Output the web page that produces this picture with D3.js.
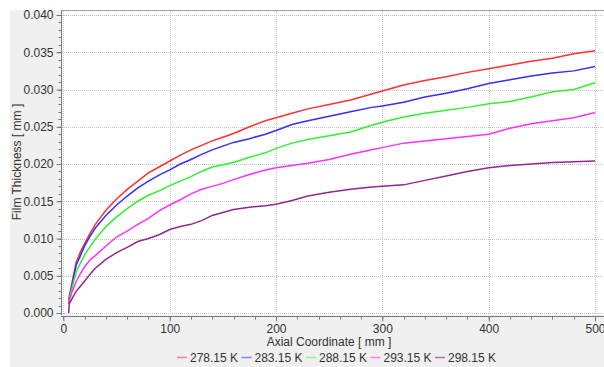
<!DOCTYPE html>
<html><head><meta charset="utf-8">
<script src="https://cdn.jsdelivr.net/npm/d3@7"></script>
<style>
html,body{margin:0;padding:0;background:#fff;}
svg{display:block;font-family:"Liberation Sans",Arial,sans-serif;}
</style></head>
<body>
<svg id="chart" width="604" height="367"></svg>
<script>
const xValues = [5,5.5,8,12,16,20,25,30,40,50,60,70,80,90,100,110,120,130,140,150,160,175,190,200,215,230,250,270,290,300,320,340,360,380,400,420,440,460,480,500];
const seriesNames = ["278.15 K","283.15 K","288.15 K","293.15 K","298.15 K"];
const seriesColors = ["#ff3030","#3030ff","#30f030","#ff30ff","#902890"];
const legendColors = ["#ff8080","#8080ff","#80ff80","#ff80ff","#b070b0"];
const s278 = [0.0016,0.0022,0.0040,0.0068,0.0082,0.0093,0.0107,0.0119,0.0138,0.0153,0.0166,0.0177,0.0188,0.0196,0.0204,0.0212,0.0219,0.0225,0.0231,0.0236,0.0241,0.0250,0.0258,0.0262,0.0268,0.0274,0.0280,0.0286,0.0294,0.0298,0.0306,0.0312,0.0317,0.0323,0.0328,0.0333,0.0338,0.0342,0.0348,0.0352];
const s283 = [0.0015,0.0020,0.0036,0.0064,0.0077,0.0090,0.0103,0.0114,0.0131,0.0145,0.0157,0.0168,0.0177,0.0185,0.0192,0.0200,0.0206,0.0213,0.0219,0.0224,0.0229,0.0234,0.0240,0.0245,0.0253,0.0258,0.0264,0.0270,0.0276,0.0278,0.0283,0.0290,0.0295,0.0301,0.0308,0.0313,0.0318,0.0322,0.0325,0.0331];
const s288 = [0.0014,0.0018,0.0033,0.0055,0.0067,0.0078,0.0089,0.0099,0.0116,0.0129,0.0140,0.0150,0.0158,0.0164,0.0171,0.0177,0.0183,0.0190,0.0196,0.0199,0.0202,0.0209,0.0215,0.0221,0.0228,0.0233,0.0238,0.0243,0.0252,0.0256,0.0263,0.0268,0.0272,0.0276,0.0281,0.0284,0.0290,0.0297,0.0300,0.0309];
const s293 = [0.0012,0.0016,0.0028,0.0042,0.0053,0.0062,0.0071,0.0077,0.0090,0.0102,0.0110,0.0119,0.0127,0.0137,0.0145,0.0152,0.0160,0.0166,0.0170,0.0174,0.0179,0.0186,0.0192,0.0195,0.0198,0.0201,0.0206,0.0213,0.0219,0.0222,0.0228,0.0231,0.0234,0.0237,0.0240,0.0248,0.0254,0.0258,0.0262,0.0269];
const s298 = [0.0000,0.0012,0.0019,0.0029,0.0036,0.0043,0.0052,0.0060,0.0072,0.0081,0.0088,0.0096,0.0100,0.0105,0.0112,0.0116,0.0119,0.0124,0.0131,0.0135,0.0139,0.0142,0.0144,0.0146,0.0151,0.0157,0.0162,0.0166,0.0169,0.0170,0.0172,0.0178,0.0184,0.0190,0.0195,0.0198,0.0200,0.0202,0.0203,0.0204];
const seriesValues = [s278,s283,s288,s293,s298];
const xTicks = [0,100,200,300,400,500];
const yTicks = [0,0.005,0.010,0.015,0.020,0.025,0.030,0.035,0.040];
const xTitle = "Axial Coordinate [ mm ]";
const yTitle = "Film Thickness [ mm ]";

const svg = d3.select("#chart");
const x = d3.scaleLinear().domain([0,500]).range([63.4,595]);
const y = d3.scaleLinear().domain([0,0.04]).range([313,15]);

// background panel
svg.append("rect").attr("x",10).attr("y",10).attr("width",594).attr("height",357).attr("fill","#f0f0f0");
// plot area
svg.append("rect").attr("x",61).attr("y",10).attr("width",543).attr("height",305).attr("fill","#fff");
svg.append("line").attr("x1",61).attr("x2",604).attr("y1",10.5).attr("y2",10.5).attr("stroke","#a0a0a0");

// gridlines
const grid = svg.append("g").attr("stroke","#c4c4c4").attr("stroke-dasharray","1,1").attr("stroke-width",1);
yTicks.forEach(t=>grid.append("line").attr("x1",62).attr("x2",604).attr("y1",Math.round(y(t))+0.5).attr("y2",Math.round(y(t))+0.5));
xTicks.forEach(t=>grid.append("line").attr("y1",11).attr("y2",315).attr("x1",Math.round(x(t))+0.5).attr("x2",Math.round(x(t))+0.5));

// y axis
const yAxis = d3.axisLeft(y).tickValues(yTicks).tickFormat(d3.format(".3f")).tickSize(5).tickPadding(3);
const gy = svg.append("g").attr("transform","translate(61.5,0)").call(yAxis);
gy.select(".domain").attr("stroke","#7a7a7a").attr("d","M0,10V315");
gy.selectAll(".tick line").attr("stroke","#7a7a7a");
gy.selectAll("text").attr("font-size",12).attr("fill","#333").attr("font-family","Liberation Sans,Arial,sans-serif");
const yMinor = d3.range(0,0.0401,0.001);
gy.selectAll(".minor").data(yMinor).enter().append("line").attr("class","minor")
  .attr("x1",-3).attr("x2",0).attr("y1",d=>Math.round(y(d))+0.5).attr("y2",d=>Math.round(y(d))+0.5).attr("stroke","#7a7a7a");

// x axis
const xAxis = d3.axisBottom(x).tickValues(xTicks).tickSize(5).tickPadding(3);
const gx = svg.append("g").attr("transform","translate(0,316.5)").call(xAxis);
gx.select(".domain").attr("stroke","#7a7a7a").attr("d","M61,0H604");
gx.selectAll(".tick line").attr("stroke","#7a7a7a");
gx.selectAll("text").attr("font-size",12).attr("fill","#333").attr("font-family","Liberation Sans,Arial,sans-serif");
const xMinor = d3.range(0,501,20);
gx.selectAll(".minor").data(xMinor).enter().append("line").attr("class","minor")
  .attr("y1",0).attr("y2",3).attr("x1",d=>Math.round(x(d))+0.5).attr("x2",d=>Math.round(x(d))+0.5).attr("stroke","#7a7a7a");

// titles
svg.append("text").attr("x",329).attr("y",346).attr("text-anchor","middle").attr("font-size",12).attr("fill","#333").text(xTitle);
svg.append("text").attr("transform","translate(21,162) rotate(-90)").attr("text-anchor","middle").attr("font-size",12).attr("fill","#333").text(yTitle);

// lines
const line = d3.line().x((d,i)=>x(xValues[i])).y(d=>y(d));
const lg = svg.append("g");
seriesValues.forEach((vals,k)=>{
  lg.append("path").datum(vals).attr("d",line).attr("fill","none").attr("stroke",seriesColors[k]).attr("stroke-width",1.5);
});

// legend
const leg = svg.append("g");
seriesNames.forEach((n,k)=>{
  const lx = 177 + k*64.5;
  leg.append("line").attr("x1",lx).attr("x2",lx+10).attr("y1",357.5).attr("y2",357.5).attr("stroke",legendColors[k]).attr("stroke-width",1.5);
  leg.append("text").attr("x",lx+13).attr("y",362).attr("font-size",12).attr("fill","#333").text(n);
});
</script>
</body></html>
